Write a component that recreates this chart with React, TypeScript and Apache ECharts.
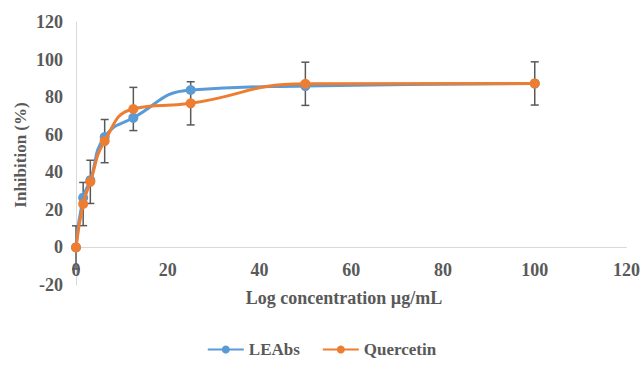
import React, { useEffect, useRef } from "react";
import * as echarts from "echarts";

const concentrations = [0, 1.5625, 3.125, 6.25, 12.5, 25, 50, 100];
const leabs = [0, 26.5, 35.8, 58.8, 69, 83.8, 85.9, 87.2];
const quercetin = [0, 23.1, 34.9, 56.6, 73.7, 76.7, 87.1, 87.3];
const quercetinError = [11.5, 11.5, 11.5, 11.5, 11.5, 11.5, 11.5, 11.5];
const xTicks = { min: 0, max: 120, interval: 20 };
const yTicks = { min: -20, max: 120, interval: 20 };

const FONT = '"Liberation Serif", "Times New Roman", serif';
const TEXT = "#595959";

export default function App() {
  const ref = useRef<HTMLDivElement>(null);
  useEffect(() => {
    document.body.style.margin = "0";
    if (!ref.current) return;
    const chart = echarts.init(ref.current, null, { renderer: "svg" });
    const errData = concentrations.map((c, i) => [
      c,
      quercetin[i] - quercetinError[i],
      quercetin[i] + quercetinError[i],
    ]);
    chart.setOption({
      animation: false,
      grid: { left: 76, right: 15, top: 22, bottom: 84, containLabel: false },
      xAxis: {
        type: "value",
        min: xTicks.min,
        max: xTicks.max,
        interval: xTicks.interval,
        axisLine: { onZero: true, lineStyle: { color: "#d9d9d9", width: 1 } },
        axisTick: { show: false },
        splitLine: { show: false },
        axisLabel: {
          color: TEXT,
          fontFamily: FONT,
          fontWeight: "bold",
          fontSize: 18,
          margin: -24,
        },
      },
      yAxis: {
        type: "value",
        min: yTicks.min,
        max: yTicks.max,
        interval: yTicks.interval,
        axisLine: { show: true, onZero: false, lineStyle: { color: "#d9d9d9", width: 1 } },
        axisTick: { show: false },
        splitLine: { show: false },
        axisLabel: {
          color: TEXT,
          fontFamily: FONT,
          fontWeight: "bold",
          fontSize: 18,
          margin: 13,
        },
      },
      legend: {
        bottom: 6,
        left: "center",
        itemWidth: 36,
        itemHeight: 10,
        itemGap: 22,
        textStyle: { color: TEXT, fontFamily: FONT, fontWeight: "bold", fontSize: 17 },
        data: ["LEAbs", "Quercetin"],
      },
      graphic: [
        {
          type: "text",
          x: 344,
          y: 298,
          style: {
            text: "Log concentration µg/mL",
            fill: TEXT,
            font: `bold 18px ${FONT}`,
            textAlign: "center",
            textVerticalAlign: "middle",
          },
        },
        {
          type: "text",
          x: 20,
          y: 155,
          rotation: Math.PI / 2,
          style: {
            text: "Inhibition (%)",
            fill: TEXT,
            font: `bold 17px ${FONT}`,
            textAlign: "center",
            textVerticalAlign: "middle",
          },
        },
      ],
      series: [
        {
          name: "Quercetin error",
          type: "custom",
          z: 1,
          encode: { x: 0, y: [1, 2] },
          data: errData,
          renderItem: (params: any, api: any) => {
            const x = api.value(0);
            const lo = api.coord([x, api.value(1)]);
            const hi = api.coord([x, api.value(2)]);
            const w = 4;
            const style = { stroke: "#595959", lineWidth: 1.5 };
            return {
              type: "group",
              children: [
                { type: "line", shape: { x1: lo[0], y1: lo[1], x2: hi[0], y2: hi[1] }, style },
                { type: "line", shape: { x1: lo[0] - w, y1: lo[1], x2: lo[0] + w, y2: lo[1] }, style },
                { type: "line", shape: { x1: hi[0] - w, y1: hi[1], x2: hi[0] + w, y2: hi[1] }, style },
              ],
            };
          },
        },
        {
          name: "LEAbs",
          type: "line",
          z: 2,
          smooth: 0.5,
          data: concentrations.map((c, i) => [c, leabs[i]]),
          symbol: "circle",
          symbolSize: 10,
          itemStyle: { color: "#5B9BD5" },
          lineStyle: { color: "#5B9BD5", width: 3 },
        },
        {
          name: "Quercetin",
          type: "line",
          z: 3,
          smooth: 0.5,
          data: concentrations.map((c, i) => [c, quercetin[i]]),
          symbol: "circle",
          symbolSize: 10,
          itemStyle: { color: "#ED7D31" },
          lineStyle: { color: "#ED7D31", width: 3 },
        },
      ],
    });
    return () => chart.dispose();
  }, []);
  return <div ref={ref} style={{ width: 643, height: 369 }} />;
}
